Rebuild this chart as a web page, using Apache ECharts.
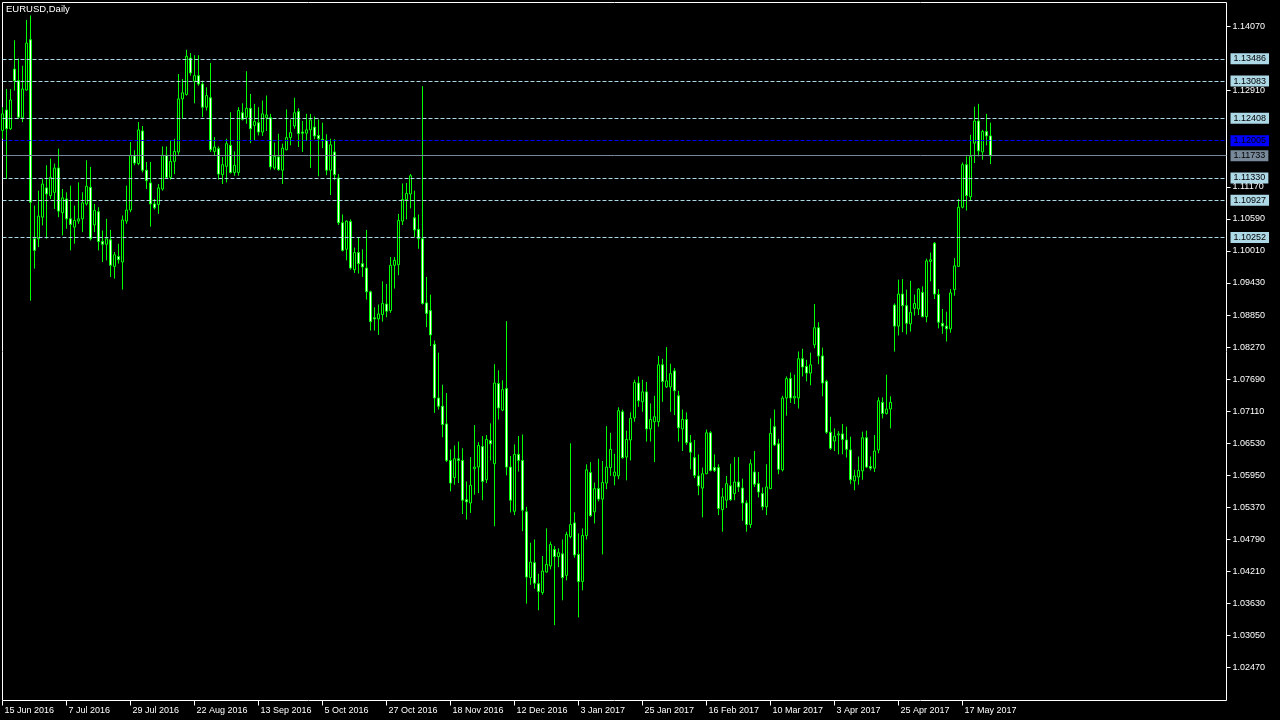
<!DOCTYPE html>
<html><head><meta charset="utf-8">
<script src="https://cdn.jsdelivr.net/npm/echarts@6/dist/echarts.min.js"></script>
<style>html,body{margin:0;padding:0;background:#000;}#c{width:1280px;height:720px;}</style>
</head><body><div id="c"></div>
<script>
const chartTitle = 'EURUSD,Daily';
const openP = [
1.1219,1.1256,1.1222,1.1330,1.1309,1.1242,1.1292,1.1383,1.1023,1.1023,
1.1062,1.1115,1.1101,1.1107,1.1151,1.1070,1.1095,1.1059,1.1044,1.1055,
1.1059,1.1086,1.1116,1.1048,1.1072,1.1018,1.1013,1.1021,1.0973,1.0991,
1.0981,1.1055,1.1075,1.1173,1.1159,1.1218,1.1147,1.1124,1.1086,1.1085,
1.1113,1.1174,1.1134,1.1163,1.1180,1.1276,1.1284,1.1350,1.1308,1.1318,
1.1303,1.1261,1.1278,1.1181,1.1186,1.1139,1.1154,1.1192,1.1143,1.1143,
1.1251,1.1243,1.1259,1.1228,1.1233,1.1216,1.1242,1.1242,1.1151,1.1171,
1.1147,1.1184,1.1206,1.1227,1.1253,1.1216,1.1214,1.1220,1.1225,1.1210,
1.1203,1.1201,1.1147,1.1180,1.1133,1.1052,1.1004,1.1054,1.0967,1.0998,
1.0978,1.0970,1.0927,1.0880,1.0878,1.0886,1.0905,1.0893,1.0975,1.0976,
1.1055,1.1094,1.1104,1.1061,1.1040,1.1023,1.0907,1.0893,1.0832,1.0735,
1.0720,1.0688,1.0622,1.0591,1.0625,1.0622,1.0551,1.0545,1.0607,1.0610,
1.0647,1.0587,1.0658,1.0616,1.0761,1.0713,1.0752,1.0610,1.0530,1.0633,
1.0622,1.0529,1.0410,1.0437,1.0399,1.0383,1.0420,1.0431,1.0461,1.0448,
1.0453,1.0414,1.0484,1.0509,1.0452,1.0403,1.0486,1.0600,1.0529,1.0571,
1.0552,1.0581,1.0609,1.0594,1.0594,1.0710,1.0628,1.0659,1.0699,1.0762,
1.0728,1.0746,1.0679,1.0692,1.0692,1.0795,1.0755,1.0755,1.0784,1.0739,
1.0679,1.0696,1.0654,1.0627,1.0594,1.0572,1.0598,1.0672,1.0609,1.0609,
1.0533,1.0550,1.0576,1.0562,1.0583,1.0572,1.0545,1.0506,1.0601,1.0580,
1.0562,1.0538,1.0571,1.0683,1.0652,1.0605,1.0735,1.0770,1.0735,1.0735,
1.0806,1.0792,1.0780,1.0831,1.0862,1.0811,1.0765,1.0673,1.0657,1.0668,
1.0670,1.0659,1.0641,1.0585,1.0592,1.0603,1.0663,1.0611,1.0608,1.0641,
1.0727,1.0707,1.0715,1.0903,1.0865,1.0923,1.0902,1.0869,1.0897,1.0896,
1.0926,1.0882,1.0982,1.1015,1.0922,1.0870,1.0865,1.0860,1.0931,1.0973,
1.1080,1.1157,1.1099,1.1196,1.1236,1.1180,1.1217,1.1209];
const highP = [
1.1261,1.1294,1.1294,1.1382,1.1349,1.1336,1.1419,1.1427,1.1083,1.1110,
1.1131,1.1156,1.1168,1.1159,1.1186,1.1113,1.1107,1.1119,1.1083,1.1125,
1.1107,1.1165,1.1153,1.1086,1.1080,1.1038,1.1059,1.1039,1.0999,1.1014,
1.1065,1.1119,1.1198,1.1183,1.1234,1.1227,1.1162,1.1162,1.1095,1.1122,
1.1190,1.1190,1.1201,1.1204,1.1321,1.1312,1.1365,1.1359,1.1355,1.1355,
1.1309,1.1297,1.1341,1.1207,1.1190,1.1171,1.1204,1.1252,1.1181,1.1261,
1.1268,1.1326,1.1285,1.1267,1.1261,1.1273,1.1282,1.1249,1.1197,1.1213,
1.1195,1.1257,1.1239,1.1278,1.1259,1.1236,1.1249,1.1249,1.1244,1.1239,
1.1233,1.1212,1.1204,1.1203,1.1140,1.1067,1.1056,1.1058,1.1007,1.1025,
1.1004,1.1039,1.0929,1.0899,1.0904,1.0946,1.0941,1.0990,1.0990,1.1068,
1.1123,1.1124,1.1140,1.1110,1.1067,1.1299,1.0954,1.0922,1.0839,1.0817,
1.0759,1.0744,1.0642,1.0649,1.0656,1.0644,1.0584,1.0628,1.0686,1.0655,
1.0666,1.0668,1.0689,1.0796,1.0785,1.0767,1.0874,1.0630,1.0651,1.0666,
1.0669,1.0538,1.0473,1.0479,1.0417,1.0449,1.0499,1.0475,1.0467,1.0463,
1.0479,1.0493,1.0653,1.0528,1.0490,1.0499,1.0615,1.0619,1.0582,1.0625,
1.0621,1.0684,1.0672,1.0634,1.0718,1.0714,1.0676,1.0709,1.0768,1.0774,
1.0768,1.0764,1.0725,1.0739,1.0811,1.0806,1.0827,1.0797,1.0789,1.0748,
1.0714,1.0709,1.0668,1.0659,1.0633,1.0609,1.0678,1.0675,1.0633,1.0615,
1.0572,1.0594,1.0616,1.0628,1.0628,1.0589,1.0550,1.0624,1.0639,1.0601,
1.0573,1.0615,1.0698,1.0714,1.0661,1.0739,1.0774,1.0781,1.0777,1.0819,
1.0824,1.0804,1.0817,1.0905,1.0872,1.0826,1.0768,1.0701,1.0680,1.0675,
1.0688,1.0683,1.0665,1.0605,1.0629,1.0674,1.0676,1.0629,1.0668,1.0736,
1.0736,1.0777,1.0738,1.0906,1.0949,1.0950,1.0931,1.0947,1.0922,1.0934,
1.0937,1.0987,1.0998,1.1017,1.0932,1.0896,1.0891,1.0932,1.0988,1.1095,
1.1161,1.1172,1.1211,1.1262,1.1267,1.1220,1.1249,1.1233];
const lowP = [
1.1204,1.1131,1.1220,1.1291,1.1240,1.1234,1.1291,1.0911,1.0969,1.1008,
1.1047,1.1023,1.1095,1.1077,1.1062,1.1029,1.1041,1.1002,1.1014,1.1050,
1.1035,1.1083,1.1020,1.1035,1.1002,1.0981,1.0984,1.0954,1.0951,1.0978,
1.0931,1.1050,1.1071,1.1156,1.1156,1.1143,1.1113,1.1045,1.1076,1.1068,
1.1110,1.1131,1.1130,1.1140,1.1175,1.1240,1.1282,1.1318,1.1268,1.1300,
1.1243,1.1255,1.1180,1.1174,1.1130,1.1122,1.1125,1.1141,1.1137,1.1137,
1.1237,1.1231,1.1196,1.1201,1.1210,1.1209,1.1218,1.1148,1.1148,1.1146,
1.1122,1.1183,1.1192,1.1222,1.1189,1.1180,1.1200,1.1151,1.1203,1.1136,
1.1187,1.1138,1.1102,1.1129,1.1048,1.1000,1.0984,1.0967,1.0961,1.0960,
1.0954,1.0913,1.0857,1.0857,1.0849,1.0873,1.0881,1.0889,1.0933,1.0957,
1.1048,1.1058,1.1078,1.1026,1.1005,1.0904,1.0863,1.0829,1.0708,1.0714,
1.0664,1.0619,1.0566,1.0578,1.0581,1.0525,1.0515,1.0527,1.0560,1.0563,
1.0550,1.0581,1.0622,1.0503,1.0696,1.0711,1.0595,1.0528,1.0523,1.0602,
1.0494,1.0363,1.0397,1.0390,1.0351,1.0379,1.0419,1.0425,1.0324,1.0429,
1.0369,1.0405,1.0481,1.0446,1.0338,1.0387,1.0479,1.0520,1.0508,1.0548,
1.0452,1.0570,1.0594,1.0577,1.0588,1.0625,1.0586,1.0622,1.0692,1.0719,
1.0710,1.0656,1.0656,1.0619,1.0683,1.0728,1.0753,1.0710,1.0704,1.0656,
1.0639,1.0650,1.0606,1.0590,1.0559,1.0519,1.0597,1.0602,1.0601,1.0523,
1.0493,1.0536,1.0549,1.0550,1.0565,1.0513,1.0493,1.0500,1.0574,1.0555,
1.0532,1.0523,1.0570,1.0648,1.0597,1.0602,1.0703,1.0726,1.0724,1.0716,
1.0774,1.0765,1.0758,1.0825,1.0796,1.0738,1.0670,1.0641,1.0639,1.0633,
1.0633,1.0627,1.0579,1.0568,1.0578,1.0587,1.0608,1.0604,1.0601,1.0635,
1.0698,1.0705,1.0680,1.0819,1.0848,1.0854,1.0850,1.0855,1.0884,1.0885,
1.0881,1.0872,1.0946,1.0914,1.0861,1.0851,1.0837,1.0853,1.0920,1.0972,
1.1078,1.1074,1.1092,1.1160,1.1172,1.1166,1.1192,1.1158];
const closeP = [
1.1249,1.1222,1.1274,1.1309,1.1243,1.1294,1.1377,1.1089,1.1002,1.1064,
1.1122,1.1104,1.1134,1.1151,1.1073,1.1097,1.1059,1.1049,1.1056,1.1059,
1.1088,1.1118,1.1023,1.1074,1.1018,1.1013,1.1023,1.0975,1.0994,1.0985,
1.1057,1.1075,1.1174,1.1160,1.1220,1.1147,1.1128,1.1086,1.1079,1.1115,
1.1174,1.1134,1.1163,1.1181,1.1276,1.1287,1.1353,1.1323,1.1318,1.1303,
1.1261,1.1282,1.1184,1.1189,1.1140,1.1157,1.1195,1.1143,1.1156,1.1255,
1.1239,1.1259,1.1222,1.1235,1.1216,1.1249,1.1247,1.1153,1.1172,1.1148,
1.1187,1.1206,1.1215,1.1251,1.1213,1.1214,1.1220,1.1238,1.1209,1.1204,
1.1201,1.1147,1.1193,1.1139,1.1052,1.1002,1.1055,1.0970,1.0998,1.0978,
1.0972,1.0927,1.0873,1.0878,1.0887,1.0906,1.0892,1.0975,1.0984,1.1056,
1.1094,1.1105,1.1137,1.1039,1.1023,1.0906,1.0888,1.0849,1.0735,1.0720,
1.0687,1.0622,1.0581,1.0625,1.0622,1.0550,1.0547,1.0577,1.0610,1.0649,
1.0584,1.0660,1.0652,1.0762,1.0717,1.0750,1.0610,1.0550,1.0633,1.0622,
1.0532,1.0411,1.0438,1.0400,1.0385,1.0422,1.0434,1.0470,1.0448,1.0455,
1.0410,1.0488,1.0506,1.0451,1.0403,1.0486,1.0605,1.0522,1.0571,1.0552,
1.0582,1.0610,1.0642,1.0601,1.0712,1.0627,1.0660,1.0698,1.0763,1.0730,
1.0746,1.0679,1.0696,1.0701,1.0795,1.0765,1.0766,1.0779,1.0748,1.0681,
1.0696,1.0654,1.0637,1.0595,1.0576,1.0598,1.0672,1.0604,1.0604,1.0535,
1.0556,1.0580,1.0551,1.0583,1.0574,1.0545,1.0506,1.0616,1.0579,1.0565,
1.0538,1.0574,1.0671,1.0650,1.0606,1.0735,1.0770,1.0735,1.0738,1.0806,
1.0791,1.0780,1.0795,1.0862,1.0811,1.0762,1.0673,1.0644,1.0666,1.0670,
1.0660,1.0642,1.0587,1.0594,1.0604,1.0663,1.0610,1.0608,1.0639,1.0730,
1.0707,1.0715,1.0727,1.0865,1.0923,1.0902,1.0870,1.0890,1.0906,1.0932,
1.0882,1.0983,1.0985,1.0923,1.0872,1.0865,1.0860,1.0925,1.0974,1.1080,
1.1157,1.1101,1.1172,1.1236,1.1182,1.1217,1.1209,1.1173];

const yTickValues = [1.14070,1.12910,1.11170,1.10590,1.10010,1.09430,1.08850,1.08270,1.07690,
  1.07110,1.06530,1.05950,1.05370,1.04790,1.04210,1.03630,1.03050,1.02470];
const levelValues = [1.13486,1.13083,1.12408,1.11330,1.10927,1.10252];
const askValue = 1.12005;
const bidValue = 1.11733;
const yMin = 1.01877, yMax = 1.14504;
const totalSlots = 307;
const labelEvery = 16;

const monthNames = ['Jan','Feb','Mar','Apr','May','Jun','Jul','Aug','Sep','Oct','Nov','Dec'];
const dates = [];
let t = Date.UTC(2016, 5, 15);
while (dates.length < openP.length) {
  const d = new Date(t);
  const wd = d.getUTCDay();
  if (wd !== 0 && wd !== 6) dates.push(d.getUTCDate() + ' ' + monthNames[d.getUTCMonth()] + ' ' + d.getUTCFullYear());
  t += 86400000;
}
const categories = dates.slice();
for (let i = dates.length; i < totalSlots; i++) categories.push('pad' + i);
const candleData = openP.map((o, i) => [o, closeP[i], lowP[i], highP[i]]);

const FONT = 'Liberation Sans';
const showIdx = (idx) => idx < dates.length && idx % labelEvery === 0;

function levelLine(v, lineColor, type, bg, fg) {
  return {
    yAxis: v,
    lineStyle: { color: lineColor, type: type, width: 1 },
    label: {
      show: true, position: 'end', distance: 4,
      formatter: () => v.toFixed(5),
      backgroundColor: bg, color: fg, fontFamily: FONT, fontSize: 9,
      padding: [1, 3, 1, 3], lineHeight: 9
    }
  };
}
const markData = levelValues.map(v => levelLine(v, '#ADD8E6', [4, 2], '#ADD8E6', '#000'));
markData.push(levelLine(askValue, '#0000FF', [4, 2], '#0000FF', '#000'));
markData.push(levelLine(bidValue, '#778899', 'solid', '#778899', '#000'));

const chart = echarts.init(document.getElementById('c'), null, { renderer: 'canvas' });
chart.setOption({
  backgroundColor: '#000',
  animation: false,
  title: { text: chartTitle, left: 6, top: 4, padding: 0,
    textStyle: { color: '#fff', fontSize: 9.5, fontWeight: 'normal', fontFamily: FONT } },
  grid: { left: 2.5, top: 2.5, width: 1224, height: 698, show: true, borderColor: '#fff', borderWidth: 1, backgroundColor: '#000' },
  xAxis: {
    type: 'category', data: categories, boundaryGap: false,
    axisLine: { show: false },
    axisTick: { show: true, length: 5, lineStyle: { color: '#fff' }, interval: (idx) => showIdx(idx) },
    axisLabel: { interval: (idx) => showIdx(idx), color: '#fff', fontFamily: FONT, fontSize: 9,
      align: 'left', margin: 6, padding: [0, 0, 0, 2], hideOverlap: false },
    splitLine: { show: false }
  },
  yAxis: {
    type: 'value', position: 'right', min: yMin, max: yMax,
    axisLine: { show: false }, splitLine: { show: false },
    axisTick: { show: true, length: 4, lineStyle: { color: '#fff' }, customValues: yTickValues },
    axisLabel: { color: '#fff', fontFamily: FONT, fontSize: 9, margin: 6, customValues: yTickValues,
      formatter: (v) => v.toFixed(5) }
  },
  series: [{
    type: 'candlestick', data: candleData, barWidth: 2, clip: true,
    itemStyle: { color: '#000', color0: '#fff', borderColor: '#00FF00', borderColor0: '#00FF00', borderWidth: 1 },
    markLine: { silent: true, precision: 5, symbol: ['none', 'none'], animation: false, data: markData }
  }]
});
</script></body></html>
